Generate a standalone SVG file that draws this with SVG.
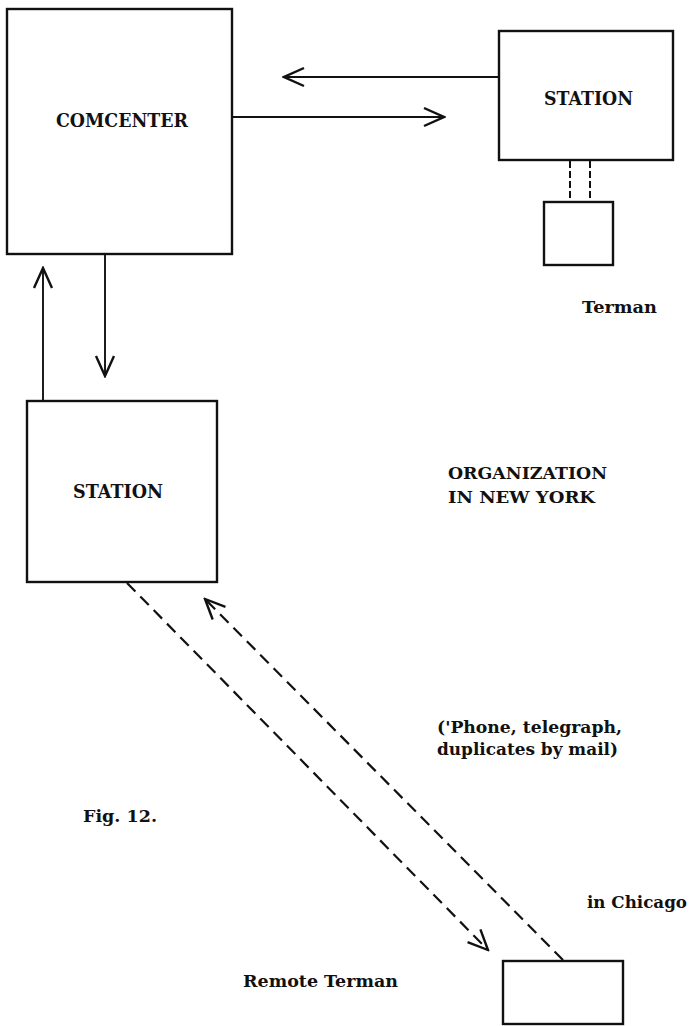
<svg xmlns="http://www.w3.org/2000/svg" width="693" height="1026" viewBox="0 0 693 1026">
<style>
.box{fill:#fff;stroke:#111;stroke-width:2.4}
.ln{fill:none;stroke:#111;stroke-width:1.9}
.dash{fill:none;stroke:#111;stroke-width:2.2;stroke-dasharray:12 7}
.sdash{fill:none;stroke:#111;stroke-width:2;stroke-dasharray:7 3}
text{font-family:"DejaVu Serif","Liberation Serif",serif;font-weight:bold;fill:#111}
</style>
<defs>
<marker id="ah" markerUnits="userSpaceOnUse" markerWidth="24" markerHeight="22" viewBox="-2 -2 24 22" refX="20" refY="9" orient="auto">
<path d="M0,0 L20,9 L0,18" fill="none" stroke="#111" stroke-width="2.4"/>
</marker>
</defs>
<rect width="693" height="1026" fill="#fff"/>
<g id="connectors">
<line class="ln" x1="499" y1="77" x2="284" y2="77" marker-end="url(#ah)"/>
<line class="ln" x1="232" y1="117" x2="444" y2="117" marker-end="url(#ah)"/>
<line class="ln" x1="43" y1="401" x2="43" y2="268" marker-end="url(#ah)"/>
<line class="ln" x1="105" y1="254" x2="105" y2="376" marker-end="url(#ah)"/>
<line class="sdash" x1="570" y1="161" x2="570" y2="202"/>
<line class="sdash" x1="590" y1="161" x2="590" y2="202"/>
<line class="dash" x1="127" y1="583" x2="488" y2="950" marker-end="url(#ah)"/>
<line class="dash" x1="563" y1="960" x2="205" y2="599" marker-end="url(#ah)"/>
</g>
<g id="comcenter">
<rect class="box" x="7" y="9" width="225" height="245"/>
<text x="56" y="127" font-size="19" textLength="132" lengthAdjust="spacingAndGlyphs">COMCENTER</text>
</g>
<g id="station-top">
<rect class="box" x="499" y="31" width="174" height="129"/>
<text x="544" y="105" font-size="18" textLength="89" lengthAdjust="spacingAndGlyphs">STATION</text>
</g>
<g id="terman">
<rect class="box" x="544" y="202" width="69" height="63"/>
<text x="582" y="313" font-size="17" textLength="75" lengthAdjust="spacingAndGlyphs">Terman</text>
</g>
<g id="station-bottom">
<rect class="box" x="27" y="401" width="190" height="181"/>
<text x="73" y="498" font-size="18" textLength="90" lengthAdjust="spacingAndGlyphs">STATION</text>
</g>
<g id="org-label">
<text x="448" y="479" font-size="17" textLength="159" lengthAdjust="spacingAndGlyphs">ORGANIZATION</text>
<text x="448" y="503" font-size="17" textLength="147" lengthAdjust="spacingAndGlyphs">IN NEW YORK</text>
</g>
<g id="comm-label">
<text x="437" y="733" font-size="16" textLength="185" lengthAdjust="spacingAndGlyphs">('Phone, telegraph,</text>
<text x="437" y="755" font-size="16" textLength="181" lengthAdjust="spacingAndGlyphs">duplicates by mail)</text>
</g>
<g id="fig-label">
<text x="83" y="822" font-size="17" textLength="74" lengthAdjust="spacingAndGlyphs">Fig. 12.</text>
</g>
<g id="remote-terman">
<rect class="box" x="503" y="961" width="120" height="63"/>
<text x="587" y="908" font-size="17" textLength="100" lengthAdjust="spacingAndGlyphs">in Chicago</text>
<text x="243" y="987" font-size="17" textLength="155" lengthAdjust="spacingAndGlyphs">Remote Terman</text>
</g>
</svg>
